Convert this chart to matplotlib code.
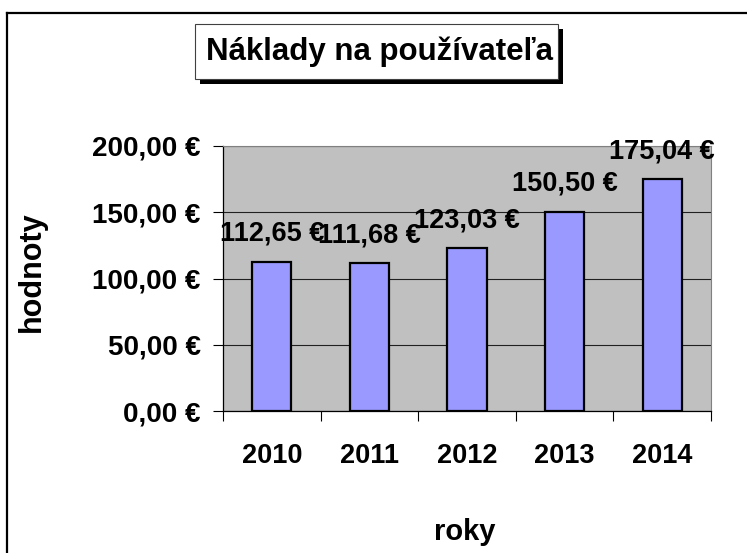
import matplotlib
matplotlib.use("Agg")
import matplotlib.pyplot as plt
from matplotlib.patches import Rectangle
from matplotlib.lines import Line2D
from matplotlib.ticker import FuncFormatter, FixedLocator

years = ["2010", "2011", "2012", "2013", "2014"]
costs = [112.65, 111.68, 123.03, 150.50, 175.04]
y_ticks = [0, 50, 100, 150, 200]

title = "Náklady na používateľa"
x_label = "roky"
y_label = "hodnoty"

plt.rcParams["font.family"] = ["Liberation Sans", "DejaVu Sans"]
plt.rcParams["font.weight"] = "bold"

W, H = 747, 553


def euro(v, pos=None):
    return f"{v:.2f}".replace(".", ",") + " €"


def fx(px):
    return px / W


def fy(px):
    return 1 - px / H


fig = plt.figure(figsize=(W / 100, H / 100), dpi=100)

# outer chart border (only top and left edges are visible)
fig.add_artist(Line2D([fx(7), fx(7)], [fy(13), 0], color="black", lw=1.6,
                      transform=fig.transFigure))
fig.add_artist(Line2D([fx(7), 1], [fy(13), fy(13)], color="black", lw=1.6,
                      transform=fig.transFigure))

ax = fig.add_axes([fx(223), fy(411), fx(711 - 223), (411 - 146) / H])
ax.set_facecolor("#C0C0C0")

x = list(range(len(years)))
bars = ax.bar(x, costs, width=0.4, color="#9999FF", edgecolor="black",
              linewidth=1.6, zorder=3)

for xi, v in zip(x, costs):
    ax.annotate(euro(v), (xi, v), xytext=(0, 15), textcoords="offset points",
                ha="center", va="baseline", fontsize=19.5, fontweight="bold",
                zorder=4, annotation_clip=False)

ax.set_xlim(-0.5, len(years) - 0.5)
ax.set_ylim(0, 200)
ax.set_yticks(y_ticks)
ax.yaxis.set_major_formatter(FuncFormatter(euro))
ax.grid(axis="y", color="#202020", lw=0.8, zorder=1)

# category ticks sit on the boundaries, labels in the middle
ax.xaxis.set_major_locator(FixedLocator([i - 0.5 for i in range(len(years) + 1)]))
ax.xaxis.set_major_formatter(FuncFormatter(lambda v, p: ""))
ax.set_xticks(x, minor=True)
ax.set_xticklabels(years, minor=True)
ax.tick_params(axis="x", which="major", length=7, width=0.8, direction="out")
ax.tick_params(axis="x", which="minor", length=0, pad=23, labelsize=19.5)
ax.tick_params(axis="y", length=7, width=0.8, pad=9, labelsize=20)

for s in ["left", "bottom"]:
    ax.spines[s].set_color("black")
    ax.spines[s].set_linewidth(0.9)
for s in ["top", "right"]:
    ax.spines[s].set_color("#808080")
    ax.spines[s].set_linewidth(0.8)

fig.text(fx(32), fy(272), y_label, rotation=90, ha="center", va="center",
         fontsize=22, fontweight="bold")
fig.text(fx(465), fy(532), x_label, ha="center", va="center",
         fontsize=21, fontweight="bold")

# title box with drop shadow
fig.add_artist(Rectangle((fx(200), fy(84)), fx(558 - 195), (79 - 24) / H,
                         facecolor="black", edgecolor="none",
                         transform=fig.transFigure))
fig.add_artist(Rectangle((fx(195), fy(79)), fx(558 - 195), (79 - 24) / H,
                         facecolor="white", edgecolor="#404040", lw=0.8,
                         transform=fig.transFigure))
fig.text(fx(379), fy(60), title, ha="center", va="baseline",
         fontsize=22.5, fontweight="bold")

fig.savefig("out.png", dpi=100)
